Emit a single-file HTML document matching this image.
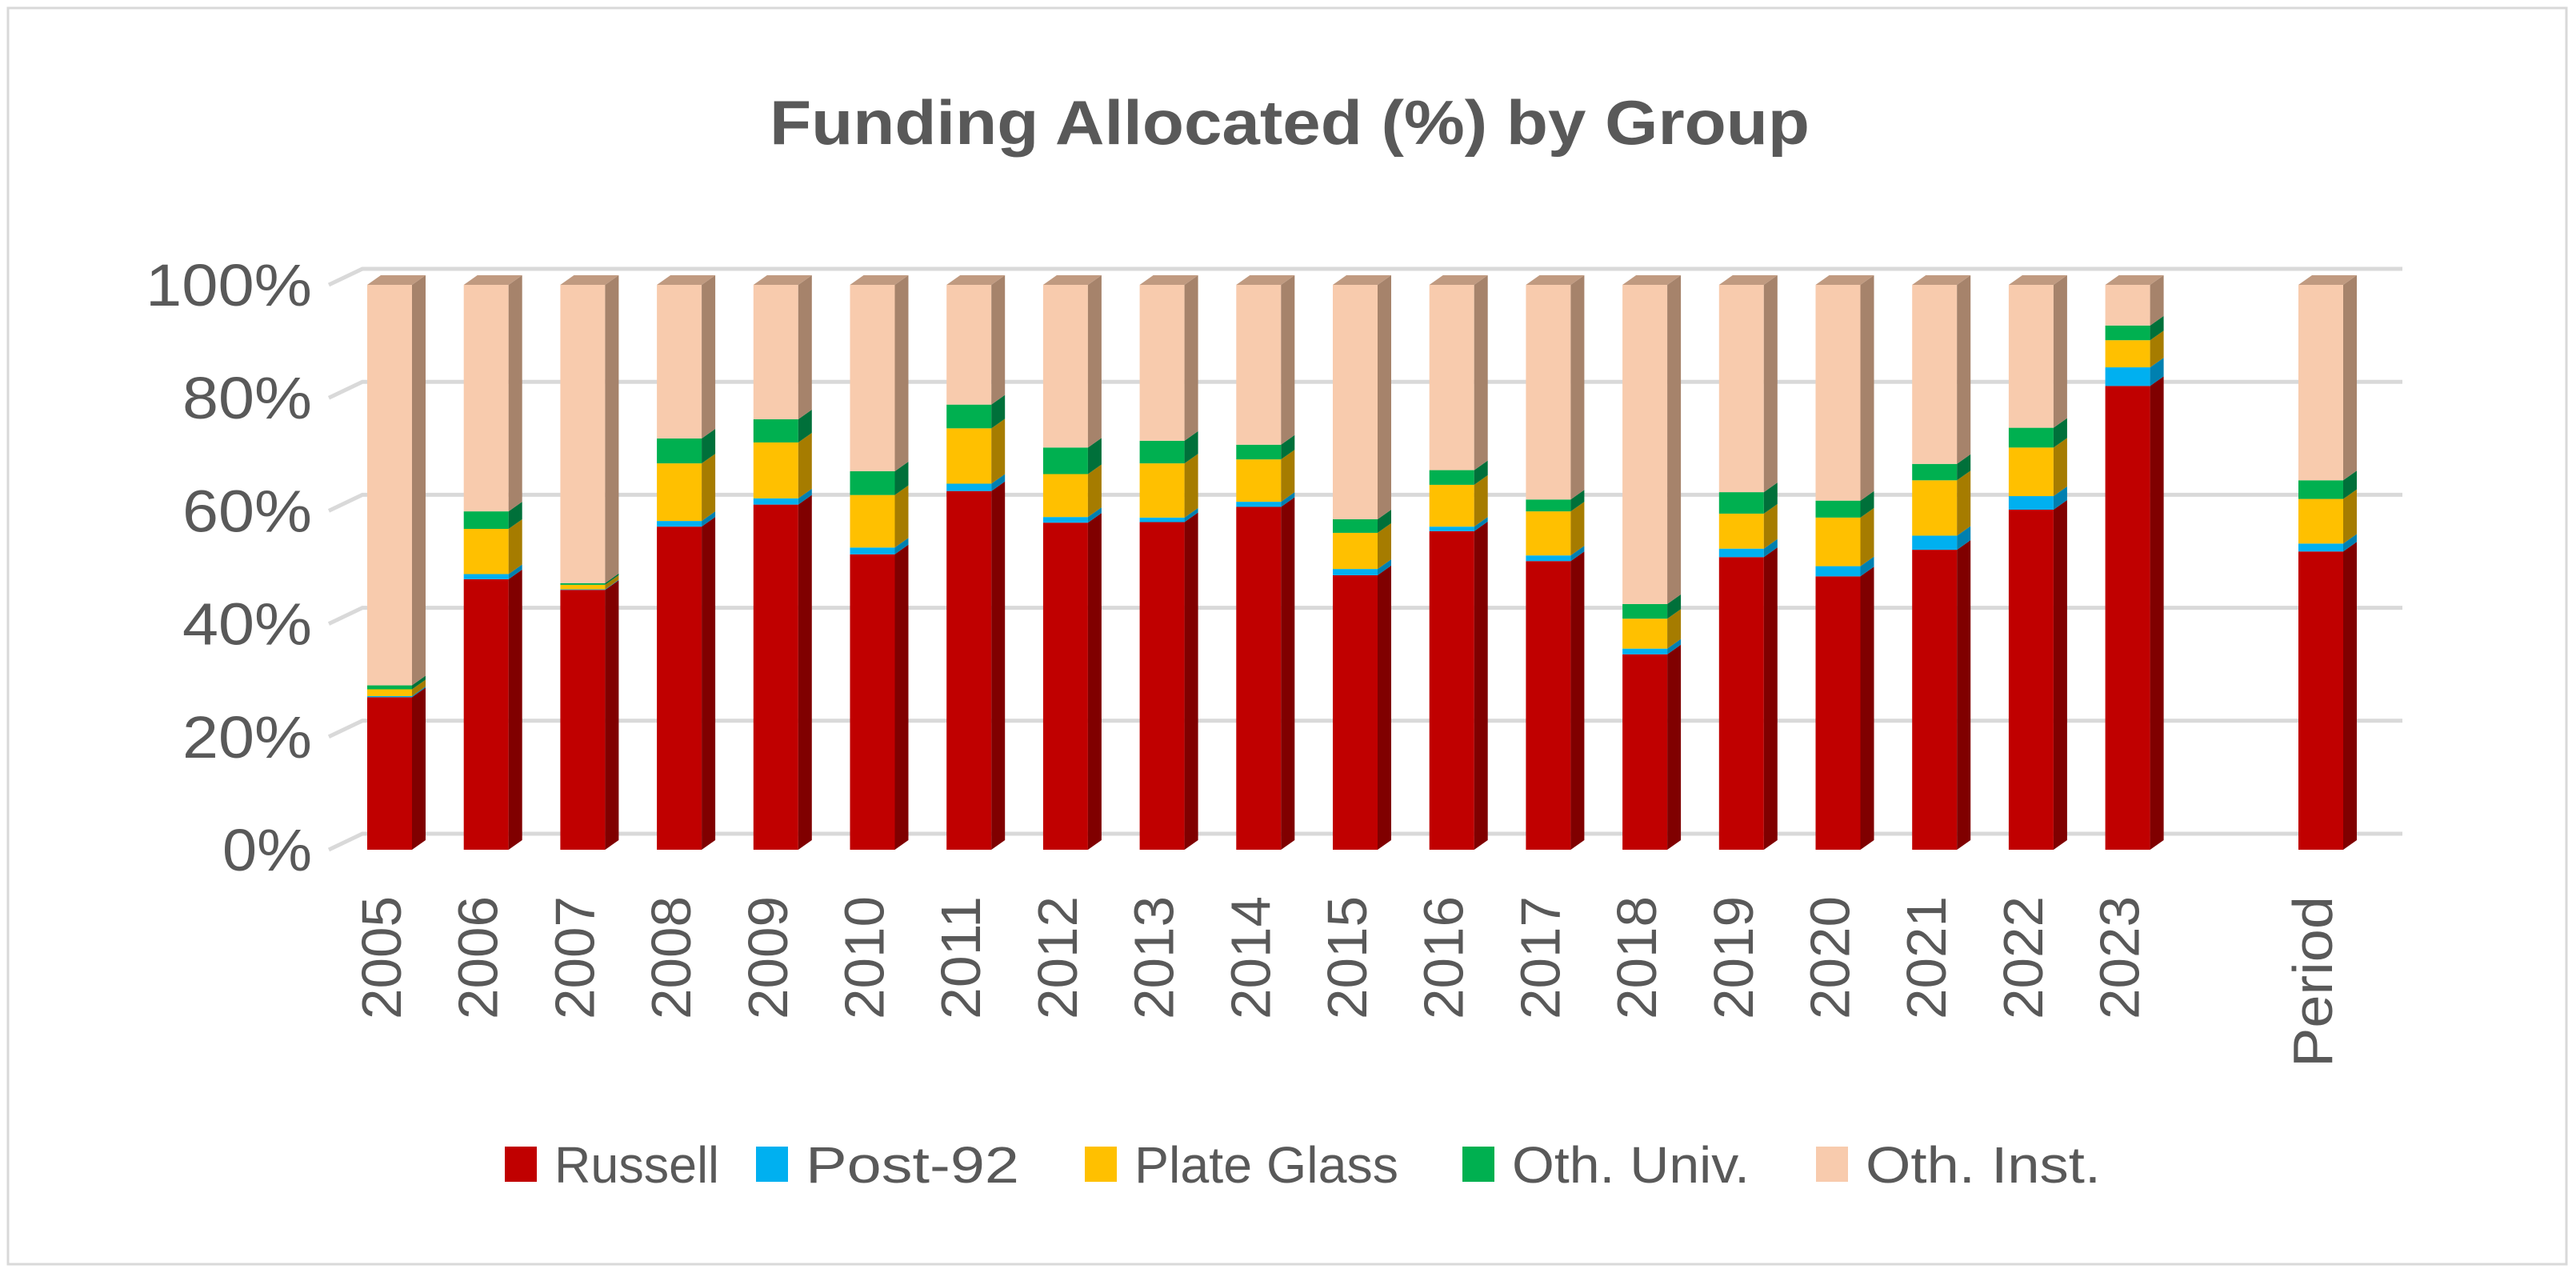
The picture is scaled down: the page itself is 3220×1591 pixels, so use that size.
<!DOCTYPE html>
<html><head><meta charset="utf-8"><style>
html,body{margin:0;padding:0;background:#fff;}
svg{display:block;font-family:"Liberation Sans",sans-serif;}
</style></head><body>
<svg id="chart" width="3220" height="1591" viewBox="0 0 3220 1591">
<rect x="10" y="10" width="3198" height="1570" fill="#fff" stroke="#d9d9d9" stroke-width="3"/>
<text x="1612" y="180" text-anchor="middle" font-size="78" font-weight="bold" fill="#595959" textLength="1300" lengthAdjust="spacingAndGlyphs">Funding Allocated (%) by Group</text>
<g id="grid"></g><g id="ylabels"></g><g id="bars"></g><g id="xlabels"></g><g id="legend"></g>
</svg>
<script>
const categories=["2005","2006","2007","2008","2009","2010","2011","2012","2013","2014","2015","2016","2017","2018","2019","2020","2021","2022","2023","Period"];
const slotIndex=[0,1,2,3,4,5,6,7,8,9,10,11,12,13,14,15,16,17,18,20];
const russell=[27.0,47.9,46.0,57.2,61.1,52.3,63.5,57.9,58.0,60.7,48.6,56.4,51.1,34.6,51.8,48.4,53.1,60.2,82.1,52.8];
const post92=[0.2,0.9,0.1,1.0,1.1,1.2,1.3,1.0,0.8,0.9,1.1,0.8,1.0,1.0,1.5,1.8,2.5,2.4,3.3,1.4];
const plateGlass=[1.2,8.0,0.8,10.2,9.9,9.3,9.8,7.6,9.6,7.5,6.4,7.4,7.8,5.3,6.2,8.6,9.8,8.6,4.8,7.9];
const othUniv=[0.7,3.1,0.3,4.4,4.1,4.2,4.2,4.7,4.0,2.6,2.4,2.6,2.1,2.6,3.8,3.0,2.9,3.5,2.6,3.3];
const yTicks=[0,20,40,60,80,100];
const seriesNames=["Russell","Post-92","Plate Glass","Oth. Univ.","Oth. Inst."];
const NS="http://www.w3.org/2000/svg";
const front=["#C00000","#00B0F0","#FFC000","#00B050","#F8CBAD"];
const side=["#800000","#0080b0","#a67c00","#00703a","#a6836b"];
const topc=["#d42020","#30c0f0","#ffd040","#30c070","#c09a80"];
const Y0=1062,YS=7.06,X0=459,STEP=120.7,BW=56,DX=17,DY=12;
function y(v){return Y0-v*YS;}
function x(i){return X0+i*STEP;}
function mk(tag,attrs,parent){const e=document.createElementNS(NS,tag);for(const k in attrs)e.setAttribute(k,attrs[k]);parent.appendChild(e);return e;}
const grid=document.getElementById('grid'),yl=document.getElementById('ylabels'),bars=document.getElementById('bars'),xl=document.getElementById('xlabels'),lg=document.getElementById('legend');
yTicks.forEach(t=>{
  const yy=y(t);
  const p=mk('polyline',{points:`411,${yy} 453,${yy-20} 3003,${yy-20}`,fill:'none',stroke:'#d9d9d9','stroke-width':5},grid);
  
  
  const tx=mk('text',{x:390,y:yy+26,'text-anchor':'end','font-size':74,fill:'#595959',textLength:t==100?208:(t==0?112:162),lengthAdjust:'spacingAndGlyphs'},yl);
  tx.textContent=t+'%';
  
  
});
categories.forEach((c,i)=>{
  const vals=[russell[i],post92[i],plateGlass[i],othUniv[i]];
  let sum=vals.reduce((a,b)=>a+b,0);
  vals.push(Math.max(0,100-sum));
  const bx=x(slotIndex[i]);
  const g=mk('g',{},bars);
  
  
  let base=0;
  vals.forEach((v,s)=>{
    if(v<=0)return;
    const yb=y(base),yt=y(base+v);
    const r=mk('rect',{x:bx,y:yt,width:BW,height:yb-yt,fill:front[s]},g);
    
    
    const sd=mk('polygon',{points:`${bx+BW},${yb} ${bx+BW+DX},${yb-DY} ${bx+BW+DX},${yt-DY} ${bx+BW},${yt}`,fill:side[s]},g);
    
    
    base+=v;
  });
  const yt=y(base);
  const tp=mk('polygon',{points:`${bx},${yt} ${bx+DX},${yt-DY} ${bx+BW+DX},${yt-DY} ${bx+BW},${yt}`,fill:topc[4]},g);
  
  
  const lx=bx+18+24;
  const t=mk('text',{x:0,y:0,'text-anchor':'end','font-size':70,fill:'#595959',transform:`translate(${lx},1120) rotate(-90)`,textLength:c=='Period'?214:154,lengthAdjust:'spacingAndGlyphs'},xl);
  t.textContent=c;
  
  
});
const legX=[631,945,1356,1828,2270],legW=[206,267,330,297,294];
seriesNames.forEach((n,s)=>{
  const g=mk('g',{},lg);
  
  
  mk('rect',{x:legX[s],y:1433,width:40,height:44,fill:front[s]},g);
  const t=mk('text',{x:legX[s]+62,y:1478,'font-size':64,fill:'#595959',textLength:legW[s],lengthAdjust:'spacingAndGlyphs'},g);
  t.textContent=n;
});
</script>
</body></html>
